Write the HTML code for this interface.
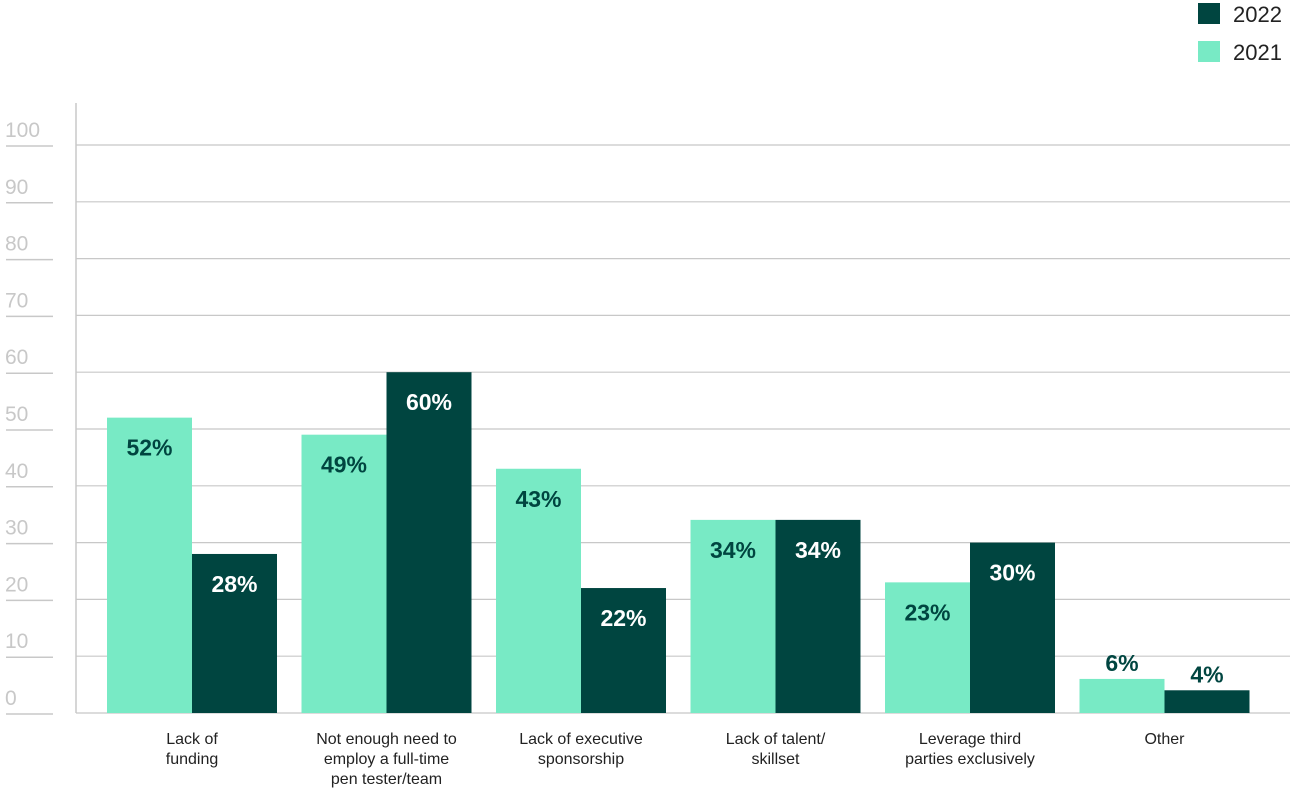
<!DOCTYPE html>
<html><head><meta charset="utf-8"><style>
body{margin:0;background:#fff;font-family:"Liberation Sans",sans-serif}
</style></head><body>
<svg id="c" width="1290" height="789" xmlns="http://www.w3.org/2000/svg" style="font-family:'Liberation Sans',sans-serif">
<rect x="1198" y="3" width="22" height="21" fill="#004540"/>
<text x="1233" y="22" font-size="22" fill="#222">2022</text>
<rect x="1198" y="41" width="22" height="21" fill="#78eac5"/>
<text x="1233" y="60" font-size="22" fill="#222">2021</text>
<line x1="76" y1="103" x2="76" y2="713" stroke="#c8c8c8" stroke-width="1.5"/>
<g id="grid"></g><g id="bars"></g><g id="cats"></g>
</svg>
<script>
const categories=[["Lack of","funding"],["Not enough need to","employ a full-time","pen tester/team"],["Lack of executive","sponsorship"],["Lack of talent/","skillset"],["Leverage third","parties exclusively"],["Other"]];
const values2021=[52,49,43,34,23,6];
const values2022=[28,60,22,34,30,4];
const yTicks=[0,10,20,30,40,50,60,70,80,90,100];
const NS="http://www.w3.org/2000/svg";
const y=v=>713-v*5.68;
const gx=i=>107+i*194.5;
function mk(tag,attrs,parent,txt){const e=document.createElementNS(NS,tag);for(const k in attrs)e.setAttribute(k,attrs[k]);if(txt!==undefined)e.textContent=txt;parent.appendChild(e);return e;}
const grid=document.getElementById('grid'),bars=document.getElementById('bars'),cats=document.getElementById('cats');
yTicks.forEach(t=>{
 const l=mk('line',{x1:6,x2:53,y1:y(t)+1,y2:y(t)+1,stroke:'#c8c8c8','stroke-width':1.5},grid);
 
 
 if(t>0){const g=mk('line',{x1:76,x2:1290,y1:y(t),y2:y(t),stroke:'#c8c8c8','stroke-width':1.2},grid);
 
 }
 const tx=mk('text',{x:5,y:y(t)-8,'font-size':21,fill:'#c8c8c8'},grid,String(t));
 
 
});
mk('line',{x1:76,x2:1290,y1:713,y2:713,stroke:'#c8c8c8','stroke-width':1.2},grid);
function bar(x,v,color,tc,name){
 const r=mk('rect',{x:x,y:y(v),width:85,height:713-y(v),fill:color},bars);
 
 
 const ly=(713-y(v))<40?y(v)-8:y(v)+38;
 const t=mk('text',{x:x+42.5,y:ly,'text-anchor':'middle','font-size':23,'font-weight':'bold',fill:(713-y(v))<40?'#004540':tc},bars,v+'%');
 
 
}
categories.forEach((c,i)=>{
 bar(gx(i),values2021[i],'#78eac5','#004540','bar-2021');
 bar(gx(i)+85,values2022[i],'#004540','#ffffff','bar-2022');
 const t=mk('text',{x:gx(i)+85,y:744,'text-anchor':'middle','font-size':16,fill:'#222'},cats);
 
 
 c.forEach((ln,j)=>mk('tspan',{x:gx(i)+85,dy:j?20:0},t,ln));
});
</script>
</body></html>
